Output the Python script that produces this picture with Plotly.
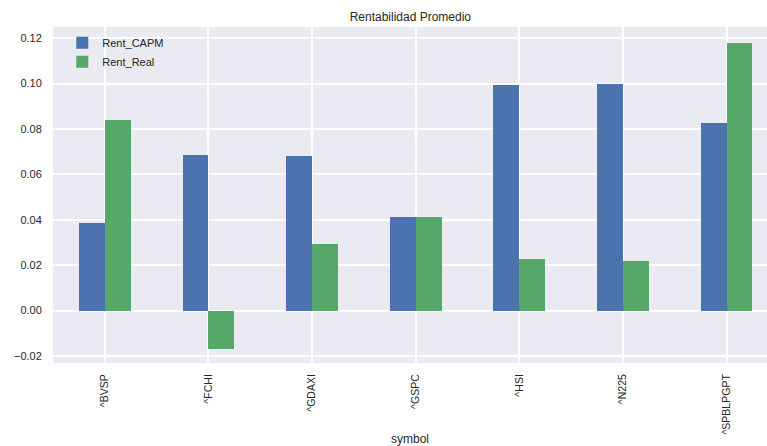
import plotly.graph_objects as go

symbols = ["^BVSP", "^FCHI", "^GDAXI", "^GSPC", "^HSI", "^N225", "^SPBLPGPT"]
rent_capm = [0.0387, 0.0686, 0.0682, 0.0412, 0.0993, 0.0998, 0.0825]
rent_real = [0.0841, -0.0171, 0.0293, 0.0412, 0.0227, 0.0218, 0.1180]

fig = go.Figure()
fig.add_trace(go.Bar(x=symbols, y=rent_capm, name="Rent_CAPM", marker_color="#4C72B0",
                     marker_line_width=0, width=0.25, offset=-0.25))
fig.add_trace(go.Bar(x=symbols, y=rent_real, name="Rent_Real", marker_color="#55A868",
                     marker_line_width=0, width=0.25, offset=0))

fig.update_layout(
    width=767, height=446,
    margin=dict(l=53, r=0, t=27, b=83, pad=0),
    paper_bgcolor="white", plot_bgcolor="#EAEAF2",
    font=dict(family="Liberation Sans, Arial, sans-serif", size=11, color="#262626"),
    title=dict(text="Rentabilidad Promedio", x=0.535, xanchor="center", y=0.962, yanchor="middle",
               font=dict(size=12, color="#262626")),
    barmode="overlay",
    bargap=0,
    showlegend=True,
    legend=dict(x=0.013, y=0.996, xanchor="left", yanchor="top", bgcolor="rgba(0,0,0,0)",
                font=dict(size=11, color="#262626"), itemwidth=30, tracegroupgap=0),
    xaxis=dict(
        type="category", range=[-0.5, 6.39], showgrid=True, gridcolor="white", gridwidth=1.5,
        tickangle=-90, ticks="outside", ticklen=6, tickcolor="rgba(0,0,0,0)",
        tickfont=dict(size=10.5, color="#262626"), automargin=False,
        title=dict(text="symbol", font=dict(size=12, color="#262626"), standoff=1),
        zeroline=False, showline=False,
    ),
    yaxis=dict(
        range=[-0.0231, 0.1249], dtick=0.02, tickformat=".2f", showgrid=True, gridcolor="white",
        gridwidth=1.5, zeroline=False, ticks="outside", ticklen=8, tickcolor="rgba(0,0,0,0)",
        tickfont=dict(size=11, color="#262626"), showline=False, automargin=False,
    ),
)

fig.write_html("out.html", config={"displayModeBar": False},
               post_script="document.body.style.margin='0';document.body.style.overflow='hidden';")
